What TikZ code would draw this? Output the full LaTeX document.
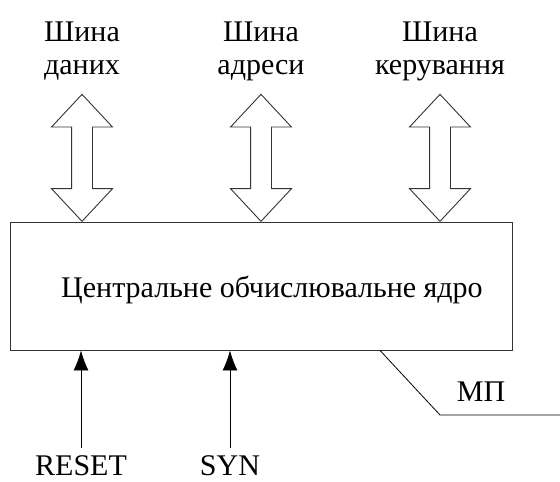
\documentclass[tikz,border=0pt]{standalone}
\usepackage{fontspec}
\setmainfont{Liberation Serif}
\usetikzlibrary{shapes.arrows,positioning,arrows.meta}
\tikzset{>={Latex[length=20pt,width=15pt]}}
\tikzset{bus/.style={double arrow,draw=black!80,line width=0.9pt,rotate=90,inner xsep=0pt,inner ysep=10pt,
    minimum height=127pt,minimum width=60pt,double arrow head extend=20pt,double arrow tip angle=86},
  lbl/.style={font=\fontsize{30}{33}\selectfont,align=center,inner sep=2pt}}

\begin{document}
\begin{tikzpicture}[x=1pt,y=1pt]
  \useasboundingbox (0,0) rectangle (560,482);
  \node[draw=black!80,line width=0.9pt,minimum width=502pt,minimum height=128pt] (core) at (261,196) {};
  \node[lbl,anchor=base] (coretext) at (272,184) {Центральне обчислювальне ядро};
  % buses on top
  \foreach \X/\N/\T in {82/data/даних,261/addr/адреси,440/ctrl/керування} {%
    \node[bus,anchor=west] (bus\N) at (\X,260) {};
    \node[lbl,above=11pt of bus\N.east] (lbl\N) {Шина\\\T};
  }
  % inputs below
  \node[lbl,anchor=base] (reset) at (81,6) {RESET};
  \node[lbl,anchor=base] (syn) at (230,6) {SYN};
  \foreach \N in {reset,syn} { \draw[->,line width=0.8pt] ([yshift=6pt]\N.north) -- (\N.north |- core.south); }
  % leader
  \node[lbl,anchor=base] (mp) at (481,80) {МП};
  \coordinate (mpknee) at (440,67);
  \coordinate (mpend) at (560,67);
  \draw[line width=0.8pt] (core.south -| 380,0) -- (mpknee) -- (mpend);
\end{tikzpicture}
\end{document}
